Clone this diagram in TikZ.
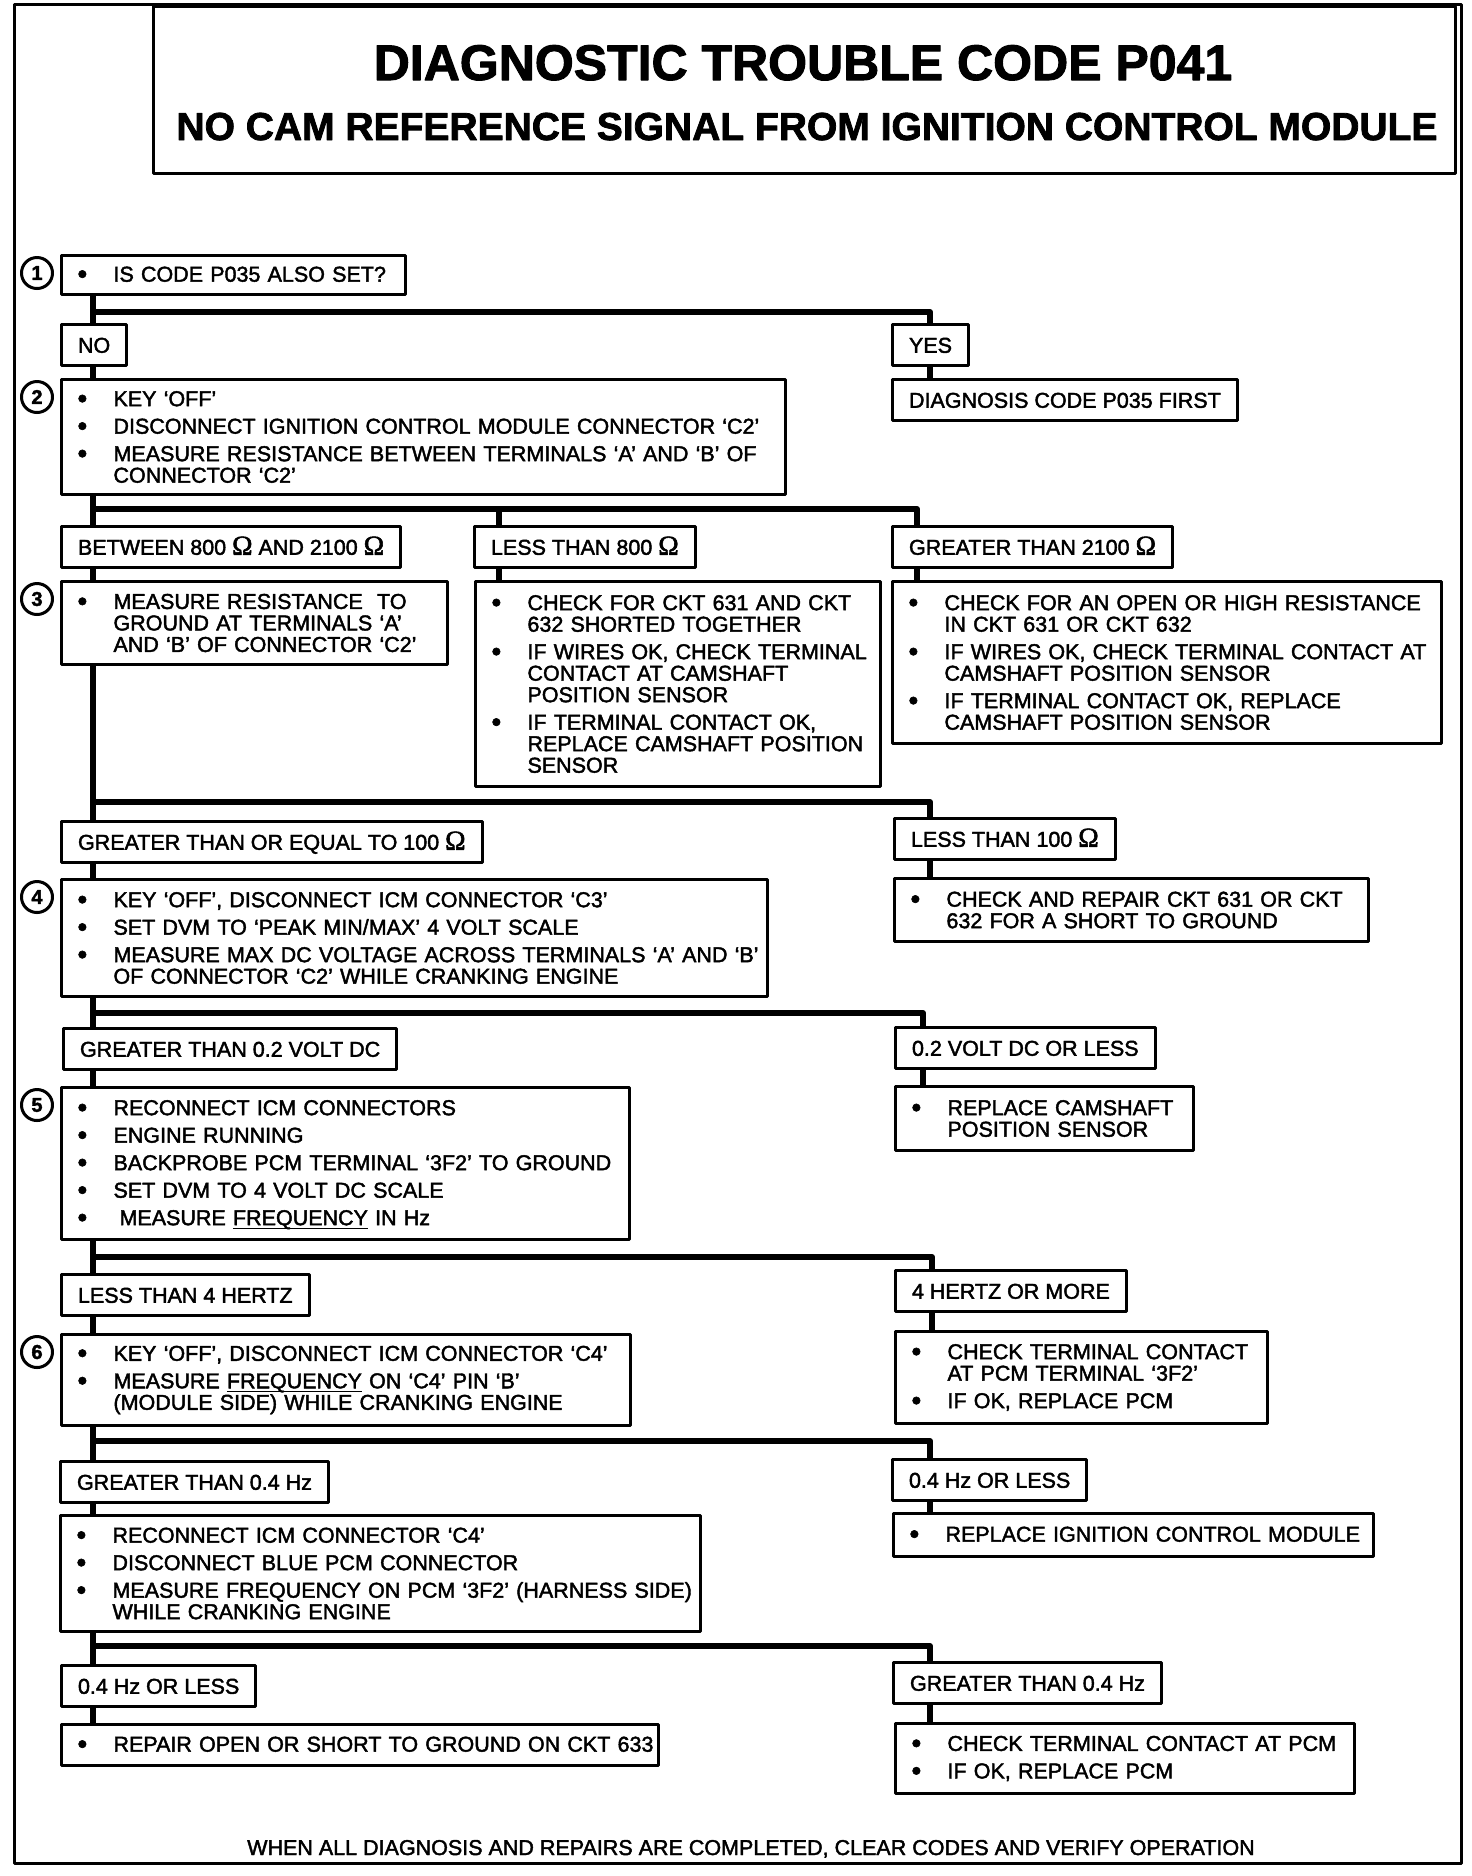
\documentclass[tikz,border=0pt]{standalone}
\usepackage{fontspec}
\setmainfont{Liberation Sans}[FakeBold=2]
\newfontfamily\ohmfont{Liberation Serif}[FakeBold=2]
\usepackage{graphicx}
\usetikzlibrary{positioning}

\newcommand{\bodyfont}{\fontsize{8.6}{8.6}\selectfont\lineskiplimit=-100pt}
\newcommand{\bul}[1]{\mbox{\makebox[14.4pt][l]{\raisebox{-0.08em}{\scalebox{1.3}{\textbullet}}}#1}}
\newcommand{\ind}[1]{\mbox{\hspace*{14.4pt}#1}}
\newcommand{\ohm}{{\ohmfont\fontsize{11}{8.6}\selectfont Ω}}
\newcommand{\uln}[1]{\smash{\underline{\smash{#1}}}}

\begin{document}
\begin{tikzpicture}[x=0.4pt, y=-0.4pt, line join=round]
  \tikzset{
    stepbox/.style={
      draw, line width=1.2pt, fill=white,
      anchor=north west, align=left,
      inner xsep=6.4pt, inner ysep=0pt,
      font=\bodyfont},
    answer/.style={
      draw, line width=1.2pt, fill=white,
      anchor=north west,
      inner xsep=6.6pt, inner ysep=0pt,
      minimum height=16.4pt,
      text height=6.2pt, text depth=0pt,
      font=\bodyfont},
    num/.style={
      circle, draw, line width=1.2pt,
      minimum size=12.4pt, inner sep=0pt,
      font=\bfseries\fontsize{8}{8}\selectfont},
    link/.style={line width=2.4pt}}

  \useasboundingbox (0,0) rectangle (1472,1876);

  % frame and heading
  \draw[line width=1.2pt] (14,4) rectangle (1461,1863);
  \draw[line width=1.2pt] (153,6) rectangle (1455,173);
  \node[anchor=base, font=\bfseries\fontsize{20}{20}\selectfont] (title) at (803,80) {DIAGNOSTIC TROUBLE CODE P041};
  \node[anchor=base, font=\bfseries\fontsize{15.6}{15.6}\selectfont] (subtitle) at (807,140) {NO CAM REFERENCE SIGNAL FROM IGNITION CONTROL MODULE};

  % step 1
  \node[stepbox, text width=124.8pt, minimum height=15.6pt] (q1) at (60,254) {\bul{IS CODE P035 ALSO SET?}};
  \node[answer] (no) at (60,323) {NO};
  \node[answer] (yes) at (891,323) {YES};
  \node[answer] (diag) at (891,378) {DIAGNOSIS CODE P035 FIRST};

  % step 2
  \node[stepbox, text width=276.8pt, minimum height=46pt] (s2) at (60,378)
    {\bul{KEY `OFF'}\\[2.4pt]
     \bul{DISCONNECT IGNITION CONTROL MODULE CONNECTOR `C2'}\\[2.4pt]
     \bul{MEASURE RESISTANCE BETWEEN TERMINALS `A' AND `B' OF}\\
     \ind{CONNECTOR `C2'}};
  \node[answer] (l21) at (60,525) {BETWEEN 800 \ohm\ AND 2100 \ohm};
  \node[answer] (l22) at (473,525) {LESS THAN 800 \ohm};
  \node[answer] (l23) at (891,525) {GREATER THAN 2100 \ohm};

  % step 3
  \node[stepbox, text width=141.6pt, minimum height=33.2pt] (s3) at (60,580)
    {\bul{MEASURE RESISTANCE\ \ TO}\\
     \ind{GROUND AT TERMINALS `A'}\\
     \ind{AND `B' OF CONNECTOR `C2'}};
  \node[stepbox, text width=149.2pt, minimum height=82pt] (m3) at (474,580)
    {\bul{CHECK FOR CKT 631 AND CKT}\\
     \ind{632 SHORTED TOGETHER}\\[2.4pt]
     \bul{IF WIRES OK, CHECK TERMINAL}\\
     \ind{CONTACT AT CAMSHAFT}\\
     \ind{POSITION SENSOR}\\[2.4pt]
     \bul{IF TERMINAL CONTACT OK,}\\
     \ind{REPLACE CAMSHAFT POSITION}\\
     \ind{SENSOR}};
  \node[stepbox, text width=206.8pt, minimum height=64.8pt] (r3) at (891,580)
    {\bul{CHECK FOR AN OPEN OR HIGH RESISTANCE}\\
     \ind{IN CKT 631 OR CKT 632}\\[2.4pt]
     \bul{IF WIRES OK, CHECK TERMINAL CONTACT AT}\\
     \ind{CAMSHAFT POSITION SENSOR}\\[2.4pt]
     \bul{IF TERMINAL CONTACT OK, REPLACE}\\
     \ind{CAMSHAFT POSITION SENSOR}};
  \node[answer] (l31) at (60,820) {GREATER THAN OR EQUAL TO 100 \ohm};
  \node[answer] (l32) at (893,817) {LESS THAN 100 \ohm};

  % step 4
  \node[stepbox, text width=269.6pt, minimum height=46.8pt] (s4) at (60,878)
    {\bul{KEY `OFF', DISCONNECT ICM CONNECTOR `C3'}\\[2.4pt]
     \bul{SET DVM TO `PEAK MIN/MAX' 4 VOLT SCALE}\\[2.4pt]
     \bul{MEASURE MAX DC VOLTAGE ACROSS TERMINALS `A' AND `B'}\\
     \ind{OF CONNECTOR `C2' WHILE CRANKING ENGINE}};
  \node[stepbox, text width=176.8pt, minimum height=25.2pt] (r4) at (893,877)
    {\bul{CHECK AND REPAIR CKT 631 OR CKT}\\
     \ind{632 FOR A SHORT TO GROUND}};
  \node[answer] (l41) at (62,1027) {GREATER THAN 0.2 VOLT DC};
  \node[answer] (l42) at (894,1026) {0.2 VOLT DC OR LESS};

  % step 5
  \node[stepbox, text width=214.4pt, minimum height=60.8pt] (s5) at (60,1086)
    {\bul{RECONNECT ICM CONNECTORS}\\[2.4pt]
     \bul{ENGINE RUNNING}\\[2.4pt]
     \bul{BACKPROBE PCM TERMINAL `3F2' TO GROUND}\\[2.4pt]
     \bul{SET DVM TO 4 VOLT DC SCALE}\\[2.4pt]
     \bul{\hspace{2.4pt}MEASURE \uln{FREQUENCY} IN Hz}};
  \node[stepbox, text width=106.4pt, minimum height=25.6pt] (r5) at (894,1085)
    {\bul{REPLACE CAMSHAFT}\\
     \ind{POSITION SENSOR}};
  \node[answer] (l51) at (60,1273) {LESS THAN 4 HERTZ};
  \node[answer] (l52) at (894,1269) {4 HERTZ OR MORE};

  % step 6
  \node[stepbox, text width=214.8pt, minimum height=36.4pt] (s6) at (60,1333)
    {\bul{KEY `OFF', DISCONNECT ICM CONNECTOR `C4'}\\[2.4pt]
     \bul{MEASURE \uln{FREQUENCY} ON `C4' PIN `B'}\\
     \ind{(MODULE SIDE) WHILE CRANKING ENGINE}};
  \node[stepbox, text width=136pt, minimum height=36.8pt] (r6) at (894,1330)
    {\bul{CHECK TERMINAL CONTACT}\\
     \ind{AT PCM TERMINAL `3F2'}\\[2.4pt]
     \bul{IF OK, REPLACE PCM}};
  \node[answer] (l61) at (59,1460) {GREATER THAN 0.4 Hz};
  \node[answer] (l62) at (891,1458) {0.4 Hz OR LESS};

  % step 7
  \node[stepbox, text width=243.2pt, minimum height=46.4pt] (s7) at (59,1514)
    {\bul{RECONNECT ICM CONNECTOR `C4'}\\[2.4pt]
     \bul{DISCONNECT BLUE PCM CONNECTOR}\\[2.4pt]
     \bul{MEASURE FREQUENCY ON PCM `3F2' (HARNESS SIDE)}\\
     \ind{WHILE CRANKING ENGINE}};
  \node[stepbox, text width=179.2pt, minimum height=17.2pt] (r7) at (892,1512)
    {\bul{REPLACE IGNITION CONTROL MODULE}};
  \node[answer] (l71) at (60,1664) {0.4 Hz OR LESS};
  \node[answer] (l72) at (892,1661) {GREATER THAN 0.4 Hz};

  % last step
  \node[stepbox, text width=226pt, minimum height=16.4pt] (s8) at (60,1723)
    {\bul{REPAIR OPEN OR SHORT TO GROUND ON CKT 633}};
  \node[stepbox, text width=170.8pt, minimum height=28pt] (r8) at (894,1722)
    {\bul{CHECK TERMINAL CONTACT AT PCM}\\[2.4pt]
     \bul{IF OK, REPLACE PCM}};

  \node[anchor=base, font=\bodyfont] (footer) at (751,1855) {WHEN ALL DIAGNOSIS AND REPAIRS ARE COMPLETED, CLEAR CODES AND VERIFY OPERATION};

  % step numbers
  \node[num] (n1) at (37,273) {1};
  \node[num] (n2) at (37,397) {2};
  \node[num] (n3) at (37,599) {3};
  \node[num] (n4) at (37,897) {4};
  \node[num] (n5) at (37,1105) {5};
  \node[num] (n6) at (37,1352) {6};

  % trunk and branch points
  \coordinate (tx) at (93,0);
  \coordinate (br1) at (930,312);
  \coordinate (br2) at (917,509);
  \coordinate (mid2) at (499,509);
  \coordinate (br3) at (930,802);
  \coordinate (br4) at (923,1013);
  \coordinate (br5) at (932,1257);
  \coordinate (br6) at (930,1441);
  \coordinate (br7) at (930,1646);

  % left trunk
  \draw[link] (q1.south -| tx) -- (no.north -| tx);
  \draw[link] (no.south -| tx) -- (s2.north -| tx);
  \draw[link] (s2.south -| tx) -- (l21.north -| tx);
  \draw[link] (l21.south -| tx) -- (s3.north -| tx);
  \draw[link] (s3.south -| tx) -- (l31.north -| tx);
  \draw[link] (l31.south -| tx) -- (s4.north -| tx);
  \draw[link] (s4.south -| tx) -- (l41.north -| tx);
  \draw[link] (l41.south -| tx) -- (s5.north -| tx);
  \draw[link] (s5.south -| tx) -- (l51.north -| tx);
  \draw[link] (l51.south -| tx) -- (s6.north -| tx);
  \draw[link] (s6.south -| tx) -- (l61.north -| tx);
  \draw[link] (l61.south -| tx) -- (s7.north -| tx);
  \draw[link] (s7.south -| tx) -- (l71.north -| tx);
  \draw[link] (l71.south -| tx) -- (s8.north -| tx);

  % branches to the right
  \draw[link] (tx |- br1) -- (br1) -- (yes.north -| br1);
  \draw[link] (yes.south -| br1) -- (diag.north -| br1);

  \draw[link] (tx |- br2) -- (br2) -- (l23.north -| br2);
  \draw[link] (mid2) -- (l22.north -| mid2);
  \draw[link] (l22.south -| mid2) -- (m3.north -| mid2);
  \draw[link] (l23.south -| br2) -- (r3.north -| br2);

  \draw[link] (tx |- br3) -- (br3) -- (l32.north -| br3);
  \draw[link] (l32.south -| br3) -- (r4.north -| br3);

  \draw[link] (tx |- br4) -- (br4) -- (l42.north -| br4);
  \draw[link] (l42.south -| br4) -- (r5.north -| br4);

  \draw[link] (tx |- br5) -- (br5) -- (l52.north -| br5);
  \draw[link] (l52.south -| br5) -- (r6.north -| br5);

  \draw[link] (tx |- br6) -- (br6) -- (l62.north -| br6);
  \draw[link] (l62.south -| br6) -- (r7.north -| br6);

  \draw[link] (tx |- br7) -- (br7) -- (l72.north -| br7);
  \draw[link] (l72.south -| br7) -- (r8.north -| br7);

\end{tikzpicture}
\end{document}
